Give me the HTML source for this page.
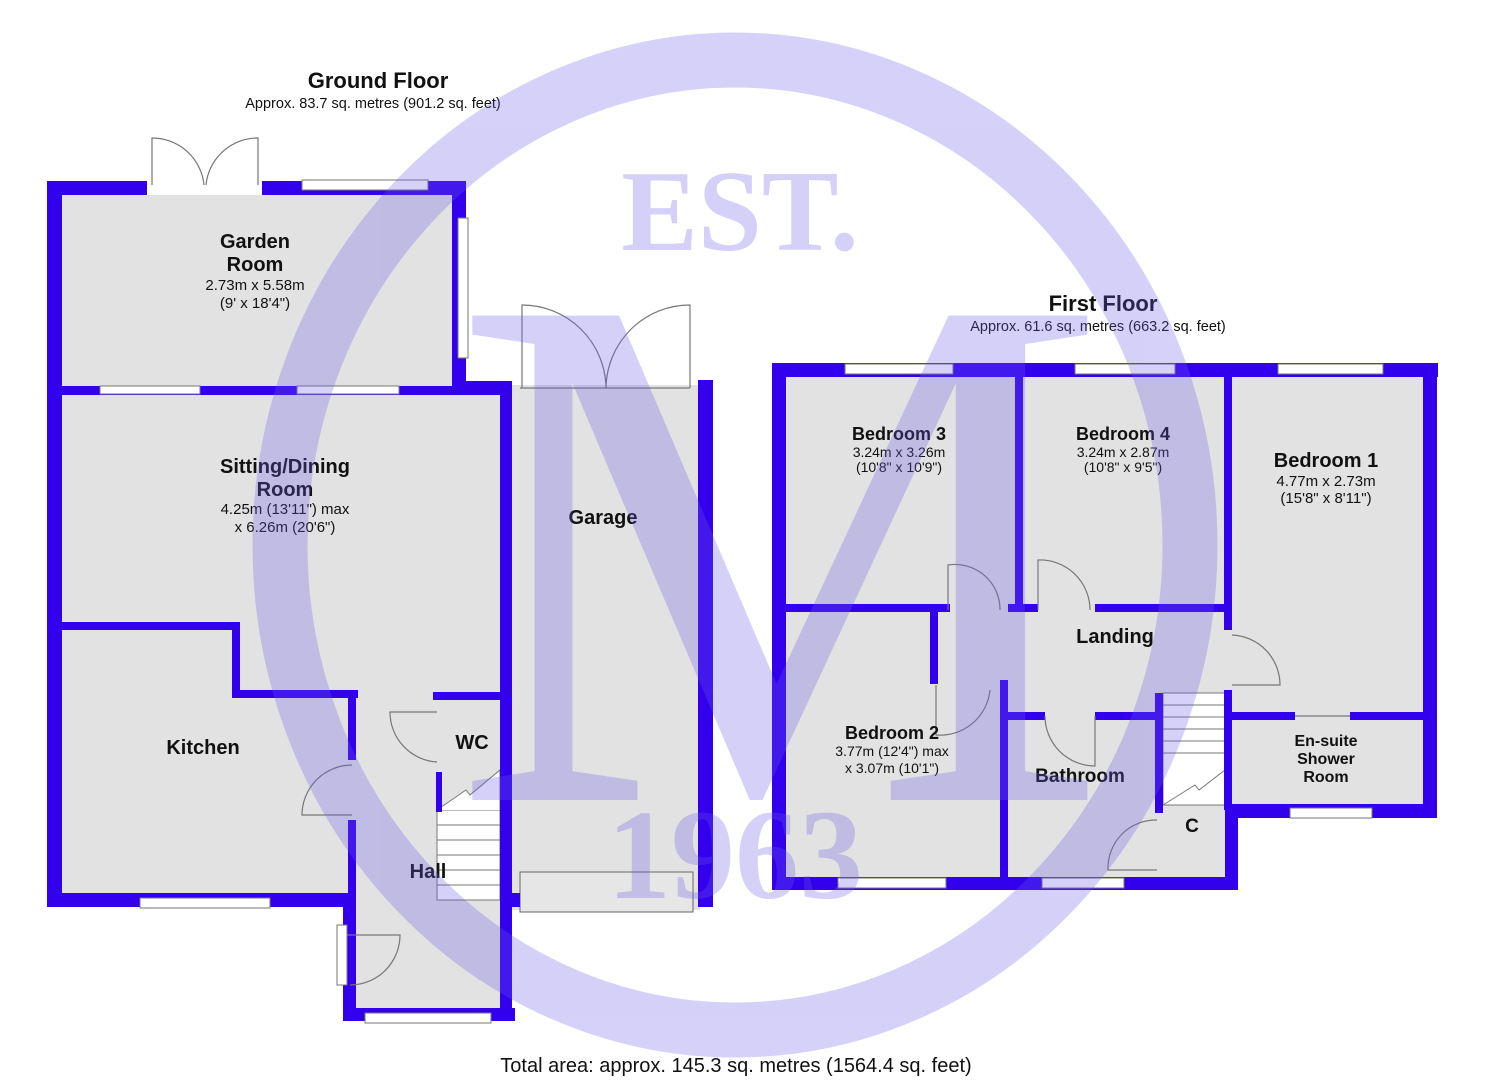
<!DOCTYPE html>
<html><head><meta charset="utf-8"><style>
html,body{margin:0;padding:0;background:#fff;width:1485px;height:1080px;overflow:hidden}
svg{display:block}
.t{font-family:"Liberation Sans",Arial,sans-serif;fill:#111}
.b{font-weight:bold;font-size:20px}
.s{font-size:15px}
.w{font-family:"Liberation Serif",serif;fill:#6a5ae8}
</style></head><body>
<svg width="1485" height="1080" viewBox="0 0 1485 1080" xmlns="http://www.w3.org/2000/svg">
<g fill="#e2e2e2">
<rect x="62" y="195" width="390" height="430"/>
<rect x="62" y="395" width="440" height="230"/>
<rect x="62" y="625" width="290" height="268"/>
<rect x="240" y="625" width="262" height="70"/>
<rect x="352" y="690" width="150" height="320"/>
<rect x="512" y="385" width="188" height="525"/>
<rect x="786" y="377" width="638" height="500"/>
</g>
<rect x="1238" y="818" width="200" height="80" fill="#fff"/>
<g fill="#fff" stroke="#777" stroke-width="1">
<rect x="437" y="810" width="63" height="90"/>
<line x1="437" y1="825" x2="500" y2="825"/><line x1="437" y1="840" x2="500" y2="840"/><line x1="437" y1="855" x2="500" y2="855"/><line x1="437" y1="870" x2="500" y2="870"/><line x1="437" y1="885" x2="500" y2="885"/>
<polyline points="437,810 466,790 470,795 500,770 500,810" />
<rect x="1163" y="693" width="62" height="112"/>
<line x1="1163" y1="705" x2="1225" y2="705"/><line x1="1163" y1="717" x2="1225" y2="717"/><line x1="1163" y1="729" x2="1225" y2="729"/><line x1="1163" y1="741" x2="1225" y2="741"/><line x1="1163" y1="753" x2="1225" y2="753"/>
<polyline points="1163,805 1195,785 1199,790 1225,770"/>
</g>
<rect x="520" y="872" width="173" height="40" fill="#e6e6e6" stroke="#666"/>
<g fill="#3300ee">
<rect x="47" y="181" width="100" height="14"/><rect x="262" y="181" width="204" height="14"/>
<rect x="47" y="181" width="15" height="726"/>
<rect x="452" y="181" width="14" height="214"/>
<rect x="452" y="381" width="58" height="14"/>
<rect x="62" y="386" width="440" height="9"/>
<rect x="500" y="381" width="12" height="640"/>
<rect x="62" y="622" width="176" height="8"/>
<rect x="232" y="622" width="8" height="76"/>
<rect x="232" y="690" width="126" height="8"/>
<rect x="348" y="690" width="8" height="70"/>
<rect x="348" y="820" width="8" height="87"/>
<rect x="47" y="893" width="309" height="14"/>
<rect x="343" y="893" width="13" height="128"/>
<rect x="343" y="1008" width="172" height="13"/>
<rect x="500" y="893" width="20" height="14"/>
<rect x="433" y="692" width="69" height="8"/>
<rect x="436" y="772" width="6" height="40"/>
<rect x="698" y="380" width="15" height="527"/>
<rect x="772" y="363" width="666" height="14"/>
<rect x="772" y="363" width="14" height="527"/>
<rect x="772" y="877" width="466" height="13"/>
<rect x="1423" y="363" width="14" height="455"/>
<rect x="1225" y="804" width="212" height="14"/>
<rect x="1225" y="804" width="13" height="86"/>
<rect x="1015" y="377" width="8" height="233"/>
<rect x="1224" y="377" width="8" height="253"/>
<rect x="1224" y="690" width="8" height="120"/>
<rect x="786" y="604" width="164" height="8"/>
<rect x="1095" y="604" width="135" height="8"/>
<rect x="1008" y="604" width="30" height="8"/>
<rect x="930" y="604" width="8" height="80"/>
<rect x="1000" y="680" width="8" height="200"/>
<rect x="1008" y="712" width="37" height="8"/>
<rect x="1095" y="712" width="68" height="8"/>
<rect x="1155" y="693" width="8" height="120"/>
<rect x="1232" y="712" width="63" height="8"/>
<rect x="1350" y="712" width="75" height="8"/>
</g>
<g fill="#fff" stroke="#777">
<rect x="302" y="180" width="126" height="10"/>
<rect x="458" y="218" width="10" height="140"/>
<rect x="100" y="386" width="100" height="8"/><rect x="297" y="386" width="102" height="8"/>
<rect x="140" y="898" width="130" height="10"/>
<rect x="365" y="1013" width="126" height="10"/>
<rect x="845" y="364" width="108" height="10"/><rect x="1075" y="364" width="100" height="10"/><rect x="1278" y="364" width="105" height="10"/>
<rect x="838" y="878" width="108" height="10"/><rect x="1042" y="878" width="82" height="10"/><rect x="1290" y="808" width="82" height="10"/>
<rect x="337" y="925" width="10" height="60"/>
</g>
<g fill="none" stroke="#777" stroke-width="1.2">
<path d="M152 185 V138 A52 52 0 0 1 204 185"/><path d="M258 185 V138 A52 52 0 0 0 206 185"/>
<path d="M522 388 V305 A84 84 0 0 1 606 388"/><path d="M690 388 V305 A84 84 0 0 0 606 388"/>
<line x1="520" y1="388" x2="690" y2="388"/>
<path d="M352 765 A50 50 0 0 0 302 815 H352"/>
<path d="M437 712 H390 A50 50 0 0 0 437 762"/>
<path d="M347 935 H400 A50 50 0 0 1 350 985"/>
<path d="M948 610 V565 A45 45 0 0 1 1000 610"/>
<path d="M1038 610 V560 A50 50 0 0 1 1090 610"/>
<path d="M936 685 V735 A50 50 0 0 0 990 690"/>
<path d="M1232 635 A50 50 0 0 1 1280 685 H1232"/>
<path d="M1045 716 A50 50 0 0 0 1095 766 V716"/>
<path d="M1157 820 A48 48 0 0 0 1108 870 H1157"/>
<path d="M1295 716 H1350"/>
</g>
<g text-anchor="middle">
<text x="378" y="88" class="t b" style="font-size:22px">Ground Floor</text>
<text x="373" y="108" class="t" style="font-size:14.5px">Approx. 83.7 sq. metres (901.2 sq. feet)</text>
<text x="1103" y="311" class="t b" style="font-size:22px">First Floor</text>
<text x="1098" y="331" class="t" style="font-size:14.5px">Approx. 61.6 sq. metres (663.2 sq. feet)</text>
<text x="255" y="248" class="t b">Garden</text><text x="255" y="271" class="t b">Room</text>
<text x="255" y="290" class="t s">2.73m x 5.58m</text><text x="255" y="308" class="t s">(9' x 18'4")</text>
<text x="285" y="473" class="t b">Sitting/Dining</text><text x="285" y="496" class="t b">Room</text>
<text x="285" y="514" class="t s">4.25m (13'11") max</text><text x="285" y="532" class="t s">x 6.26m (20'6")</text>
<text x="603" y="524" class="t b">Garage</text>
<text x="203" y="754" class="t b">Kitchen</text>
<text x="472" y="749" class="t b">WC</text>
<text x="428" y="878" class="t b">Hall</text>
<text x="899" y="440" class="t b" style="font-size:18px">Bedroom 3</text><text x="899" y="457" class="t" style="font-size:14px">3.24m x 3.26m</text><text x="899" y="472" class="t" style="font-size:14px">(10'8" x 10'9")</text>
<text x="1123" y="440" class="t b" style="font-size:18px">Bedroom 4</text><text x="1123" y="457" class="t" style="font-size:14px">3.24m x 2.87m</text><text x="1123" y="472" class="t" style="font-size:14px">(10'8" x 9'5")</text>
<text x="1326" y="467" class="t b">Bedroom 1</text><text x="1326" y="486" class="t s">4.77m x 2.73m</text><text x="1326" y="503" class="t s">(15'8" x 8'11")</text>
<text x="1115" y="643" class="t b">Landing</text>
<text x="892" y="739" class="t b" style="font-size:18px">Bedroom 2</text><text x="892" y="756" class="t" style="font-size:14px">3.77m (12'4") max</text><text x="892" y="773" class="t" style="font-size:14px">x 3.07m (10'1")</text>
<text x="1080" y="782" class="t b" style="font-size:19px">Bathroom</text>
<text x="1326" y="746" class="t b" style="font-size:16px">En-suite</text><text x="1326" y="764" class="t b" style="font-size:16px">Shower</text><text x="1326" y="782" class="t b" style="font-size:16px">Room</text>
<text x="1192" y="832" class="t b" style="font-size:19px">C</text>
<text x="736" y="1072" class="t" style="font-size:20px">Total area: approx. 145.3 sq. metres (1564.4 sq. feet)</text>
</g>
<g opacity="0.28">
<ellipse cx="735" cy="545" rx="455" ry="485" fill="none" stroke="#6a5ae8" stroke-width="55"/>
<text x="740" y="250" text-anchor="middle" class="w" style="font-weight:bold;font-size:115px">EST.</text>
<text x="735" y="898" text-anchor="middle" class="w" style="font-weight:bold;font-size:128px">1963</text>
<text x="780" y="800" text-anchor="middle" class="w" style="font-size:740px">M</text>
</g>
</svg>
</body></html>
